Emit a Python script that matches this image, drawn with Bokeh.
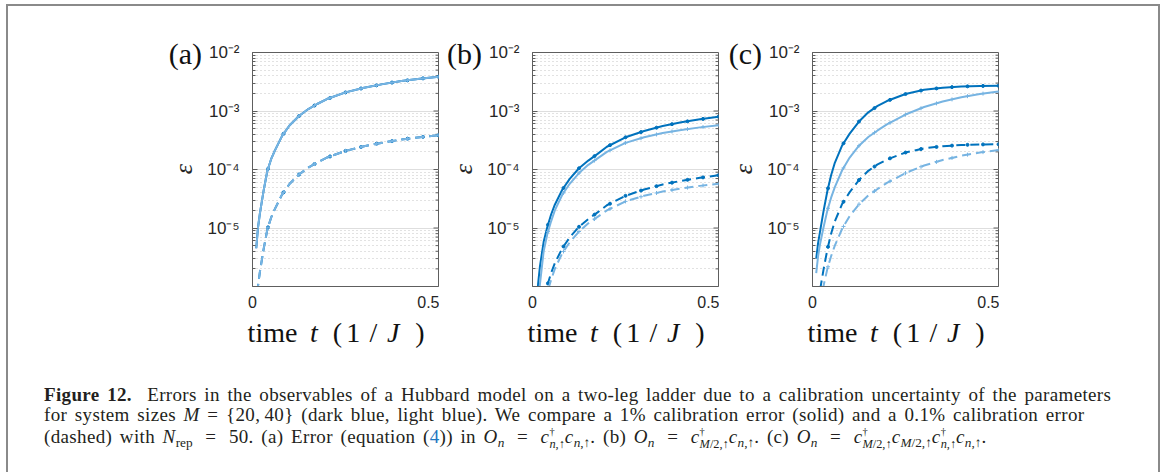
import numpy as np
from bokeh.plotting import figure
from bokeh.models import (FixedTicker, Div, Spacer, CustomJSTickFormatter, Range1d)
from bokeh.layouts import row, column
from bokeh.embed import file_html
from bokeh.resources import INLINE

# ---------------- data ----------------
t = [0.01, 0.015, 0.02, 0.03, 0.04, 0.05, 0.06, 0.08, 0.1, 0.125,
     0.15, 0.175, 0.2, 0.25, 0.3, 0.35, 0.4, 0.45, 0.5]

# panel (a): both system sizes coincide
a_dark_solid = [4.5e-6, 1.05e-5, 1.8e-5, 4.4e-5, 9.5e-5, 1.5e-4, 2.1e-4, 3.8e-4, 5.7e-4, 8.2e-4,
                1.08e-3, 1.33e-3, 1.6e-3, 2.08e-3, 2.5e-3, 2.88e-3, 3.25e-3, 3.57e-3, 3.85e-3]
a_light_solid = [4.5e-6, 1.05e-5, 1.8e-5, 4.4e-5, 9.5e-5, 1.5e-4, 2.1e-4, 3.8e-4, 5.7e-4, 8.2e-4,
                 1.08e-3, 1.33e-3, 1.6e-3, 2.08e-3, 2.5e-3, 2.88e-3, 3.25e-3, 3.57e-3, 3.85e-3]
a_dark_dashed = [4.5e-7, 1.05e-6, 1.8e-6, 4.4e-6, 9.5e-6, 1.5e-5, 2.1e-5, 3.8e-5, 5.7e-5, 8.2e-5,
                 1.08e-4, 1.33e-4, 1.6e-4, 2.08e-4, 2.5e-4, 2.88e-4, 3.25e-4, 3.57e-4, 3.85e-4]
a_light_dashed = [4.5e-7, 1.05e-6, 1.8e-6, 4.4e-6, 9.5e-6, 1.5e-5, 2.1e-5, 3.8e-5, 5.7e-5, 8.2e-5,
                  1.08e-4, 1.33e-4, 1.6e-4, 2.08e-4, 2.5e-4, 2.88e-4, 3.25e-4, 3.57e-4, 3.85e-4]

# panel (b)
b_dark_solid = [4e-7, 1.1e-6, 2.2e-6, 5.8e-6, 1.05e-5, 1.7e-5, 2.5e-5, 4.5e-5, 6.9e-5, 1.05e-4,
                1.42e-4, 1.85e-4, 2.45e-4, 3.55e-4, 4.55e-4, 5.55e-4, 6.4e-4, 7.2e-4, 8.0e-4]
b_light_solid = [2e-7, 5.5e-7, 1.1e-6, 4.0e-6, 8.0e-6, 1.3e-5, 2.0e-5, 3.7e-5, 5.7e-5, 8.7e-5,
                 1.2e-4, 1.55e-4, 2.0e-4, 2.85e-4, 3.55e-4, 4.2e-4, 4.75e-4, 5.25e-4, 5.7e-4]
b_dark_dashed = [4e-8, 1.1e-7, 2.2e-7, 5.8e-7, 1.05e-6, 1.7e-6, 2.5e-6, 4.5e-6, 6.9e-6, 1.05e-5,
                 1.42e-5, 1.85e-5, 2.45e-5, 3.55e-5, 4.55e-5, 5.55e-5, 6.4e-5, 7.2e-5, 8.0e-5]
b_light_dashed = [2e-8, 5.5e-8, 1.1e-7, 4.0e-7, 8.0e-7, 1.3e-6, 2.0e-6, 3.7e-6, 5.7e-6, 8.7e-6,
                  1.2e-5, 1.55e-5, 2.0e-5, 2.85e-5, 3.55e-5, 4.2e-5, 4.75e-5, 5.25e-5, 5.7e-5]

# panel (c)
c_dark_solid = [3.0e-6, 5.5e-6, 8.5e-6, 2.0e-5, 4.3e-5, 8.0e-5, 1.3e-4, 2.6e-4, 4.1e-4, 6.6e-4,
                9.5e-4, 1.22e-3, 1.48e-3, 1.95e-3, 2.3e-3, 2.5e-3, 2.62e-3, 2.68e-3, 2.7e-3]
c_light_solid = [1.7e-6, 3.3e-6, 5.2e-6, 1.05e-5, 2.0e-5, 3.3e-5, 5.0e-5, 9.8e-5, 1.6e-4, 2.55e-4,
                 3.6e-4, 4.65e-4, 5.9e-4, 8.7e-4, 1.17e-3, 1.45e-3, 1.72e-3, 1.95e-3, 2.15e-3]
c_dark_dashed = [3.0e-7, 5.5e-7, 8.5e-7, 2.0e-6, 4.3e-6, 8.0e-6, 1.3e-5, 2.6e-5, 4.1e-5, 6.6e-5,
                 9.5e-5, 1.22e-4, 1.48e-4, 1.95e-4, 2.3e-4, 2.5e-4, 2.62e-4, 2.68e-4, 2.7e-4]
c_light_dashed = [1.7e-7, 3.3e-7, 5.2e-7, 1.05e-6, 2.0e-6, 3.3e-6, 5.0e-6, 9.8e-6, 1.6e-5, 2.55e-5,
                  3.6e-5, 4.65e-5, 5.9e-5, 8.7e-5, 1.17e-4, 1.45e-4, 1.72e-4, 1.95e-4, 2.15e-4]

panel_tags = ["(a)", "(b)", "(c)"]
y_major = [1e-5, 1e-4, 1e-3, 1e-2]
y_minor = [m * 10.0 ** e for e in range(-6, -2) for m in range(2, 10)]
x_ticks = [0, 0.5]
marker_t = [k / 24 for k in range(1, 13)]
x_start, x_end = 0.0, 0.5
y_start, y_end = 1e-6, 1e-2

panels = [
    ("(a)", a_dark_solid, a_light_solid, a_dark_dashed, a_light_dashed),
    ("(b)", b_dark_solid, b_light_solid, b_dark_dashed, b_light_dashed),
    ("(c)", c_dark_solid, c_light_solid, c_dark_dashed, c_light_dashed),
]

# ---------------- style ----------------
DARK = "#0072BD"
LIGHT = "#77B4E2"
AX = "#5e5e5e"
TXT = "#262626"
SANS = "Liberation Sans"
SERIF = "Liberation Serif"
FRAME_W = 177
LEFT_B = 46
R_OVER = 12          # room Bokeh keeps at the right for the overhanging "0.5" label
FIG_W = LEFT_B + FRAME_W + R_OVER
FIG_H = 310
PITCH = 280

sup_formatter = CustomJSTickFormatter(code="""
const e = Math.round(Math.log10(tick));
const m = {"-": "\u207b", "0": "\u2070", "1": "\u00b9", "2": "\u00b2", "3": "\u00b3",
           "4": "\u2074", "5": "\u2075", "6": "\u2076", "7": "\u2077", "8": "\u2078", "9": "\u2079"};
return "10" + String(e).split("").map(c => m[c]).join("");
""")


def interp_log(tt, ys, tq):
    return list(10 ** np.interp(tq, tt, np.log10(ys)))


def make_figure(ds, ls, dd, ld):
    p = figure(width=FIG_W, height=FIG_H, x_range=Range1d(x_start, x_end),
               y_range=Range1d(y_start, y_end), y_axis_type="log",
               output_backend="svg", toolbar_location=None,
               min_border_left=LEFT_B, min_border_right=1,
               min_border_top=46, min_border_bottom=30)
    p.background_fill_color = "white"
    p.border_fill_color = "white"
    p.outline_line_color = AX
    p.outline_line_width = 1

    yt = FixedTicker(ticks=y_major, minor_ticks=y_minor)
    ya = p.yaxis[0]
    ya.ticker = yt
    ya.formatter = sup_formatter
    ya.major_tick_in = 5
    ya.major_tick_out = 0
    ya.minor_tick_in = 3
    ya.minor_tick_out = 0
    ya.axis_line_color = AX
    ya.major_tick_line_color = AX
    ya.minor_tick_line_color = AX
    ya.major_label_standoff = 13
    ya.major_label_text_font = SANS
    ya.major_label_text_font_size = "17px"
    ya.major_label_text_color = TXT

    xa = p.xaxis[0]
    xa.ticker = FixedTicker(ticks=x_ticks)
    xa.major_tick_in = 0
    xa.major_tick_out = 0
    xa.minor_tick_in = 0
    xa.minor_tick_out = 0
    xa.axis_line_color = AX
    xa.major_label_text_font = SANS
    xa.major_label_text_font_size = "16px"
    xa.major_label_text_color = TXT
    xa.major_label_standoff = 9

    p.xgrid.visible = False
    p.ygrid.ticker = yt
    p.ygrid.grid_line_color = "#dedede"
    p.ygrid.minor_grid_line_color = "#c4c4c4"
    p.ygrid.minor_grid_line_dash = "1 3"

    # mirrored (inward) ticks on the right edge of the box
    p.ray(x=[x_end] * len(y_major), y=y_major, length=5, length_units="screen",
          angle=np.pi, line_color=AX, line_width=1)
    p.ray(x=[x_end] * len(y_minor), y=y_minor, length=3, length_units="screen",
          angle=np.pi, line_color=AX, line_width=1)

    # curves: dark underneath, light on top
    for ys, col, dash in [(ds, DARK, "solid"), (dd, DARK, "9 5"),
                          (ls, LIGHT, "solid"), (ld, LIGHT, "9 5")]:
        p.line(t, ys, line_color=col, line_width=2, line_dash=dash)
        ym = interp_log(t, ys, marker_t)
        if col == DARK:
            p.scatter(marker_t, ym, marker="circle", size=3, fill_color=col,
                      line_color=col)
        else:
            p.scatter(marker_t, ym, marker="cross", size=4, line_color=col,
                      line_width=1)
    return p


def left_div(tag, w):
    html = (f'<div style="position:relative;width:{w}px;height:350px;">'
            f'<span style="position:absolute;right:2px;top:33px;font-family:\'{SERIF}\';'
            f'font-size:30px;line-height:30px;color:#111;white-space:nowrap;">{tag}</span>'
            f'<span style="position:absolute;left:{w - 20}px;top:163px;font-family:\'{SERIF}\';'
            'font-style:italic;font-size:26px;line-height:26px;color:#262626;'
            'transform:translate(-50%,-50%) rotate(-90deg);">ε</span></div>')
    return Div(text=html, width=w, height=350, margin=0)


def xlabel_div():
    pieces = [("time", 22.5, "normal"), ("t", 64, "italic"), ("(", 87.5, "normal"),
              ("1", 103.3, "normal"), ("/", 123.3, "normal"), ("J", 143.3, "italic"),
              (")", 170, "normal")]
    spans = "".join(
        f'<span style="position:absolute;left:{LEFT_B + xc}px;top:3px;transform:translateX(-50%);'
        f'font-style:{st};">{txt}</span>' for txt, xc, st in pieces)
    html = (f'<div style="position:relative;width:{FIG_W}px;height:40px;font-family:\'{SERIF}\';'
            f'font-size:28px;line-height:28px;color:#111;white-space:nowrap;">{spans}</div>')
    return Div(text=html, width=FIG_W, height=40, margin=0)


panel_blocks = []
for i, (tag, ds, ls, dd, ld) in enumerate(panels):
    fig = make_figure(ds, ls, dd, ld)
    w = 56 if i == 0 else PITCH - FIG_W
    panel_blocks.append(row(left_div(tag, w), column(fig, xlabel_div())))
used = 140 + 56 + 3 * FIG_W + 2 * (PITCH - FIG_W)


# ---------------- caption ----------------
def stacked(sup, sub):
    # raised zero-width dagger followed by a lowered subscript starting at the same x
    return ('<span style="display:inline-block;width:0;font-size:0.55em;line-height:0;'
            f'vertical-align:8px;letter-spacing:0;">{sup}</span>'
            '<sub style="font-size:0.65em;vertical-align:-5px;line-height:0;'
            f'letter-spacing:0;">{sub}</sub>')


def sub(s):
    return (f'<sub style="font-size:0.7em;vertical-align:-0.3em;line-height:0;'
            f'letter-spacing:0;">{s}</sub>')


EQ = " = "
EQW = ' <span style="margin:0 5px;">=</span> '
On = "<i>O</i>" + sub("<i>n</i>")
cdag_n = "<i>c</i>" + stacked("†", "<i>n</i>,↑")
cdag_M = "<i>c</i>" + stacked("†", "<i>M</i>/2,↑")
c_n = "<i>c</i>" + sub("<i>n</i>,↑")
c_M = "<i>c</i>" + sub("<i>M</i>/2,↑")

line1 = ("<b>Figure 12.</b>&nbsp; Errors in the observables of a Hubbard model on a "
         "two-leg ladder due to a calibration uncertainty of the parameters")
line2 = ("for system sizes <i>M</i>" + EQ + "{20,&thinsp;40} (dark blue, light blue). We compare a 1% "
         "calibration error (solid) and a 0.1% calibration error")
line3 = ("(dashed) with <i>N</i>" + sub("rep") + EQW + "50. (a) Error (equation "
         "(<span style=\"color:#1f78c1\">4</span>)) in " + On + EQW + cdag_n + c_n +
         ". (b) " + On + EQW + cdag_M + c_n + ". (c) " + On + EQW + cdag_M + c_M +
         cdag_n + c_n + ".")

caption_html = (f'<div style="font-family:\'{SERIF}\';font-size:19px;line-height:20px;'
                'color:#231f20;letter-spacing:0.35px;word-spacing:2.5px;white-space:nowrap;'
                'padding:29px 0 0 36px;">'
                f'<div>{line1}</div><div>{line2}</div>'
                f'<div style="margin-top:2px;">{line3}</div></div>')
caption = Div(text=caption_html, width=1150, height=116, margin=0)

# ---------------- layout ----------------
BORDER = {"background-color": "#8a8a8a"}
panels_row = row(Spacer(width=140, height=350), *panel_blocks,
                 Spacer(width=1150 - used, height=350))
content = column(panels_row, caption)
main = row(Spacer(width=6, height=466),
           Div(text="", width=2, height=466, margin=0, styles=BORDER),
           content,
           Div(text="", width=2, height=466, margin=0, styles=BORDER))
top = row(Spacer(width=6, height=2), Div(text="", width=1154, height=2, margin=0, styles=BORDER))
layout = column(Spacer(width=1160, height=4), top, main)

open("out.html", "w").write(file_html(layout, INLINE))
